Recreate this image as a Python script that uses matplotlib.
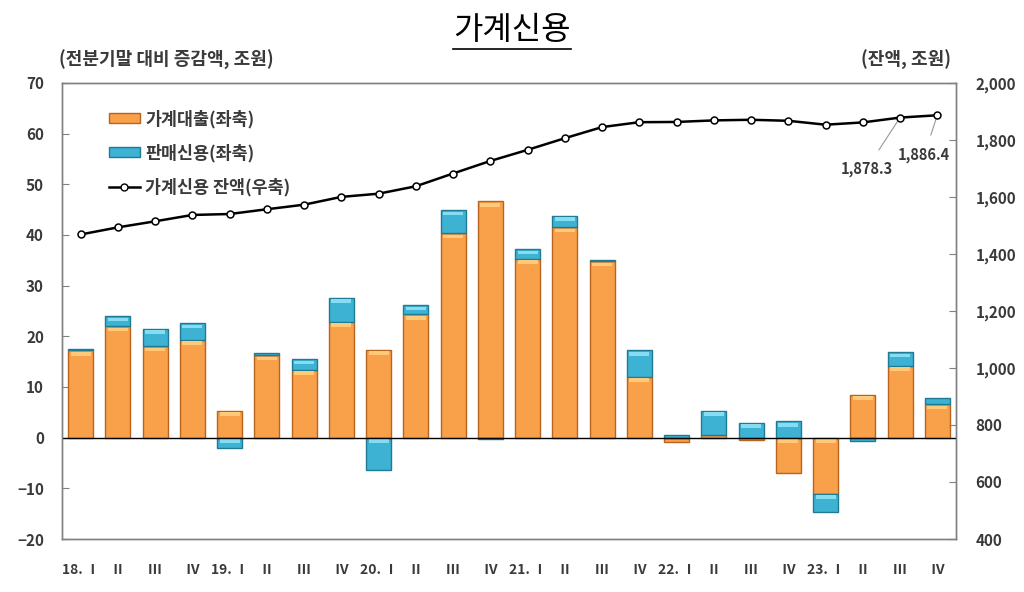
import numpy as np
import matplotlib
matplotlib.use('Agg')
import matplotlib.pyplot as plt
from matplotlib.lines import Line2D
from matplotlib.patches import Patch

plt.rcParams['font.family'] = ['Noto Sans CJK KR', 'DejaVu Sans']

# 분기 라벨
quarters = ['18. Ⅰ', 'Ⅱ', 'Ⅲ', 'Ⅳ', '19. Ⅰ', 'Ⅱ', 'Ⅲ', 'Ⅳ', '20. Ⅰ', 'Ⅱ', 'Ⅲ', 'Ⅳ',
            '21. Ⅰ', 'Ⅱ', 'Ⅲ', 'Ⅳ', '22. Ⅰ', 'Ⅱ', 'Ⅲ', 'Ⅳ', '23. Ⅰ', 'Ⅱ', 'Ⅲ', 'Ⅳ']

# 가계대출 증감액 (조원, 좌축)
loans = [17.2, 22.0, 18.0, 19.3, 5.3, 16.3, 13.4, 22.9, 17.3, 24.3, 40.3, 46.6,
         35.3, 41.5, 34.8, 12.0, -0.9, 0.6, -0.5, -7.0, -11.1, 8.5, 14.2, 6.6]

# 판매신용 증감액 (조원, 좌축)
sales = [0.3, 2.0, 3.5, 3.3, -2.0, 0.4, 2.1, 4.7, -6.3, 1.8, 4.6, -0.2,
         1.9, 2.3, 0.2, 5.2, 0.5, 4.7, 2.9, 3.2, -3.5, -0.7, 2.7, 1.2]

# 가계신용 잔액 (조원, 우축)
balance = [1468.2, 1493.2, 1514.4, 1536.7, 1540.0, 1556.7, 1572.7, 1600.1,
           1611.3, 1637.3, 1682.1, 1726.1, 1765.0, 1805.9, 1844.9, 1862.1,
           1862.9, 1868.4, 1870.6, 1867.0, 1853.3, 1861.3, 1878.3, 1886.4]

x = np.arange(len(quarters))
loans = np.array(loans)
sales = np.array(sales)
# 양수/음수 따로 쌓기 (엑셀 누적 막대 방식)
sales_bottom = np.where(np.sign(sales) == np.sign(loans), loans, 0)

orange = '#F9A04B'
orange_edge = '#B8641E'
orange_hi = '#FFC978'
blue = '#3DB2D2'
blue_edge = '#1F7A94'
blue_hi = '#86DDF2'
gray_txt = '#3A3A3A'

fig = plt.figure(figsize=(10.24, 5.92), dpi=100)
ax = fig.add_axes([0.0605, 0.0895, 0.873, 0.7705])
ax2 = ax.twinx()

w = 0.67
ax.bar(x, loans, width=w, color=orange, edgecolor=orange_edge, linewidth=1.0, zorder=2)
ax.bar(x, sales, width=w, bottom=sales_bottom, color=blue, edgecolor=blue_edge, linewidth=1.0, zorder=2)


# 입체 효과: 각 막대 윗부분에 밝은 띠
def bevel(vals, bottoms, color):
    tops = np.maximum(bottoms, bottoms + vals)
    big = np.abs(vals) > 1.5
    ax.bar(x[big], np.full(big.sum(), 0.7), width=w * 0.8, bottom=tops[big] - 1.0,
           color=color, linewidth=0, zorder=2.5)


bevel(loans, np.zeros_like(loans), orange_hi)
bevel(sales, sales_bottom, blue_hi)
ax.axhline(0, color='black', lw=1, zorder=3)

ax.set_xlim(-0.5, len(quarters) - 0.5)
ax.set_ylim(-20, 70)
ax.set_yticks(np.arange(-20, 71, 10))
ax.set_xticks(x)
ax.set_xticklabels(quarters)
ax.tick_params(axis='x', length=0, pad=17, labelsize=10, labelcolor=gray_txt)
ax.tick_params(axis='y', direction='in', length=5, pad=13, labelsize=11, labelcolor=gray_txt, color='#808080')
for lbl in ax.get_xticklabels() + ax.get_yticklabels():
    lbl.set_fontweight('bold')

ax2.plot(x, balance, color='black', lw=1.8, marker='o', markersize=5,
         markerfacecolor='white', markeredgecolor='black', markeredgewidth=1.1, zorder=4)
ax2.set_ylim(400, 2000)
ax2.set_yticks(np.arange(400, 2001, 200))
ax2.set_yticklabels([f'{v:,}' for v in range(400, 2001, 200)])
ax2.tick_params(axis='y', direction='in', length=5, pad=14, labelsize=11, labelcolor=gray_txt, color='#808080')
for lbl in ax2.get_yticklabels():
    lbl.set_fontweight('bold')

for a in (ax, ax2):
    for s in a.spines.values():
        s.set_color('#808080')
        s.set_linewidth(1)

# 마지막 두 점 라벨
ax2.annotate(f'{balance[-2]:,.1f}', xy=(x[-2], balance[-2]), xytext=(x[-2] - 0.9, balance[-2] - 180),
             fontsize=10.5, fontweight='bold', color=gray_txt, ha='center', va='center',
             arrowprops=dict(arrowstyle='-', color='#999999', lw=0.8, shrinkA=7, shrinkB=3))
ax2.annotate(f'{balance[-1]:,.1f}', xy=(x[-1], balance[-1]), xytext=(x[-1] - 0.35, balance[-1] - 140),
             fontsize=10.5, fontweight='bold', color=gray_txt, ha='center', va='center',
             arrowprops=dict(arrowstyle='-', color='#999999', lw=0.8, shrinkA=7, shrinkB=3))

handles = [Patch(facecolor=orange, edgecolor=orange_edge, label='가계대출(좌축)'),
           Patch(facecolor=blue, edgecolor=blue_edge, label='판매신용(좌축)'),
           Line2D([], [], color='black', lw=1.8, marker='o', markersize=5, markerfacecolor='white',
                  markeredgecolor='black', label='가계신용 잔액(우축)')]
leg = ax2.legend(handles=handles, loc='upper left', bbox_to_anchor=(0.035, 0.975), frameon=False,
                 labelspacing=0.9, handlelength=1.8, handleheight=0.5, handletextpad=0.3,
                 prop={'size': 12.5, 'weight': 'bold'})
for t in leg.get_texts():
    t.set_color(gray_txt)

fig.text(0.5, 0.95, '가계신용', ha='center', va='center', fontsize=23, color='black')
fig.add_artist(Line2D([0.442, 0.558], [0.918, 0.918], color='black', lw=1.2, transform=fig.transFigure))
fig.text(0.058, 0.898, '(전분기말 대비 증감액, 조원)', ha='left', va='center', fontsize=13,
         fontweight='bold', color=gray_txt)
fig.text(0.929, 0.898, '(잔액, 조원)', ha='right', va='center', fontsize=13,
         fontweight='bold', color=gray_txt)

fig.savefig('out.png', dpi=100)
